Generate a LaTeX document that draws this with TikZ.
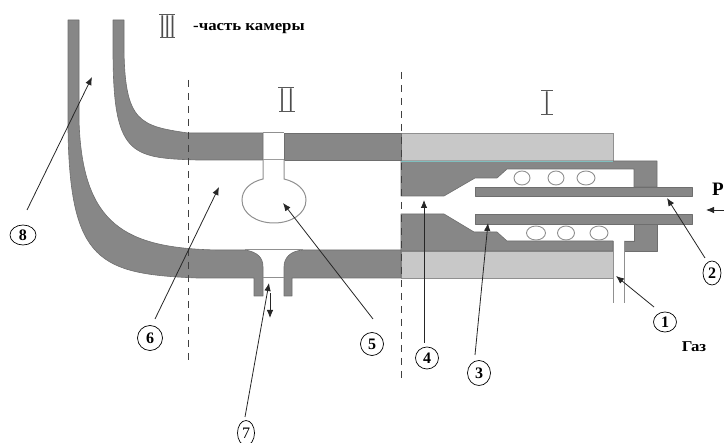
\documentclass[tikz,border=0pt]{standalone}
\usepackage{fontspec}
\setmainfont{Liberation Serif}
\newfontfamily\romfont{Liberation Sans}
\usetikzlibrary{arrows.meta,shapes.geometric}
\definecolor{wall}{HTML}{878787}
\definecolor{wallpale}{HTML}{C8C8C8}
\definecolor{edgeg}{HTML}{6E6E6E}
\definecolor{thing}{HTML}{909090}
\definecolor{tealline}{HTML}{7FBFBF}
\tikzset{
  darkpart/.style={fill=wall,draw=edgeg,line width=.6pt,line join=round},
  palepart/.style={fill=wallpale,draw=thing,line width=.8pt},
  thinline/.style={draw=thing,line width=1pt},
  coil/.style={draw=thing,line width=.9pt,fill=white},
  divider/.style={draw=black!75,line width=.9pt,dash pattern=on 7pt off 6pt},
  pointer/.style={draw=black!85,line width=.8pt,-{Latex[length=8pt,width=6.5pt]}},
  numlabel/.style={ellipse,draw=black,line width=.7pt,inner sep=0pt,font=\bfseries\fontsize{16}{16}\selectfont,minimum width=23pt,minimum height=23pt},
  romannum/.style={inner sep=0pt,font=\romfont\fontsize{33}{33}\selectfont,text=black!70,xscale=.55},
  rombar/.style={draw=black!65,line width=1pt},
  caption/.style={inner sep=0pt,font=\bfseries\fontsize{15}{17}\selectfont,xscale=1.12}
}
\begin{document}
\begin{tikzpicture}[x=1pt,y=-1pt]
\useasboundingbox (0,0) rectangle (724,443);
% pale blocks of section I
\path[palepart] (401,133) rectangle (613,161);
\path[palepart] (401,251) rectangle (613,278);
% outer lower wall with left tube
\path[darkpart] (68,20) -- (79,20) -- (79,120)
  .. controls (82,225) and (125,248) .. (217,250)
  -- (245,250) .. controls (258,252) and (263,258) .. (263,267) -- (263,296) -- (254,296) -- (254,278) -- (197,278)
  .. controls (100,274) and (70,262) .. (68,130)
  -- cycle;
% lower straight wall
\path[darkpart] (401,250) -- (303,250) .. controls (290,251) and (284,258) .. (284,267) -- (284,296) -- (292,296) -- (292,278) -- (401,278) -- cycle;
% upper wall with right tube
\path[darkpart] (113,20) -- (124,20) -- (124,50)
  .. controls (125,122) and (140,126) .. (188,133)
  -- (263,133) -- (263,160) -- (197,160)
  .. controls (130,158) and (113,155) .. (113,50)
  -- cycle;
\path[darkpart] (284,133) -- (401,133) -- (401,160) -- (284,160) -- cycle;
% neck and bulb
\draw[thinline] (263,133) -- (284,133);
\draw[thinline] (245,250) -- (303,250);
\draw[thinline] (263,277.5) -- (284,277.5);
\draw[thinline] (263,160) -- (284,160);
\draw[thinline,fill=white] (263,160) -- (263,179) .. controls (250,182) and (242,190) .. (242,200)
  .. controls (242,214) and (257,223) .. (274,223) .. controls (291,223) and (306,214) .. (306,200)
  .. controls (306,190) and (297,182) .. (284,179) -- (284,160);
% section I dark body
\path[darkpart] (401,161) -- (657,161) -- (657,187) -- (634,187) -- (634,169) -- (507,169) -- (497,178) -- (475,178) -- (444,196) -- (401,196) -- cycle;
\path[darkpart] (401,214) -- (444,214) -- (474,232) -- (497,232) -- (507,241) -- (613,241) -- (613,251) -- (401,251) -- cycle;
\path[darkpart] (624,241) -- (634,241) -- (634,223) -- (657,223) -- (657,251) -- (624,251) -- cycle;
\draw[tealline,line width=.8pt] (401,161) -- (613,161);
% inner tubes
\path[darkpart] (475,187) rectangle (692,196);
\path[darkpart] (475,214) rectangle (692,224);
% gas pipe
\draw[thinline] (613,241) -- (613,303);
\draw[thinline] (624,241) -- (624,303);
% coils
\draw[coil] (522,178) ellipse (8 and 7);
\draw[coil] (556,178) ellipse (8 and 7);
\draw[coil] (586,178) ellipse (9 and 7);
\draw[coil] (536,233) ellipse (9.5 and 7);
\draw[coil] (566,233) ellipse (8.5 and 7);
\draw[coil] (599,233) ellipse (9 and 7);
% dividers
\draw[divider] (188,80) -- (188,363);
\draw[divider] (401,72) -- (401,380);
% roman numerals
\node[romannum] (rIII) at (167.5,27) {III};
\draw[rombar] (159,15) -- (175,15); \draw[rombar] (160,38) -- (175,38);
\node[romannum] (rII) at (286.5,100) {I\kern7pt I};
\draw[rombar] (278,88) -- (294,88); \draw[rombar] (279,112) -- (295,112);
\node[romannum] (rI) at (547,103) {I};
\draw[rombar] (541,91) -- (553,91); \draw[rombar] (541,115) -- (553,115);
\node[caption,anchor=west] (cap) at (193,29) {-часть камеры};
\node[caption,anchor=center] (gas) at (694,347) {Газ};
\node[inner sep=0pt,anchor=west,font=\bfseries\fontsize{19}{19}\selectfont] (pr) at (712,189.5) {Р};
% number labels
\node[numlabel,minimum width=26pt,minimum height=20pt] (n8) at (23,235) {8};
\node[numlabel,minimum width=25pt,minimum height=25pt] (n6) at (150,338) {6};
\node[numlabel,minimum width=17pt,minimum height=25pt,font=\fontsize{16}{16}\selectfont] (n7) at (246,433) {7};
\node[numlabel] (n5) at (372,344) {5};
\node[numlabel,minimum height=22pt] (n4) at (427,358) {4};
\node[numlabel,minimum height=25pt] (n3) at (479,373) {3};
\node[numlabel,minimum width=18pt,minimum height=24pt] (n2) at (712,273) {2};
\node[numlabel,minimum height=20pt] (n1) at (665,322) {1};
% pointers
\coordinate (s8) at (27,210); \coordinate (t8) at (92,77);
\coordinate (s6) at (155,319); \coordinate (t6) at (219,187);
\coordinate (s7) at (245,417); \coordinate (t7) at (269,283);
\coordinate (s7b) at (270,293); \coordinate (t7b) at (270,318);
\coordinate (s5) at (373,319); \coordinate (t5) at (283,203);
\coordinate (s4) at (424,343); \coordinate (t4) at (424,200);
\coordinate (s3) at (475,355); \coordinate (t3) at (488,223);
\coordinate (s2) at (705,258); \coordinate (t2) at (667,198);
\coordinate (s1) at (654,307); \coordinate (t1) at (616,276);
\coordinate (sP) at (724,210); \coordinate (tP) at (706,210);
\draw[pointer] (s8) -- (t8);
\draw[pointer] (s6) -- (t6);
\draw[pointer] (s7) -- (t7);
\draw[pointer] (s7b) -- (t7b);
\draw[pointer] (s5) -- (t5);
\draw[pointer] (s4) -- (t4);
\draw[pointer] (s3) -- (t3);
\draw[pointer] (s2) -- (t2);
\draw[pointer] (s1) -- (t1);
\draw[pointer] (sP) -- (tP);
\end{tikzpicture}
\end{document}
